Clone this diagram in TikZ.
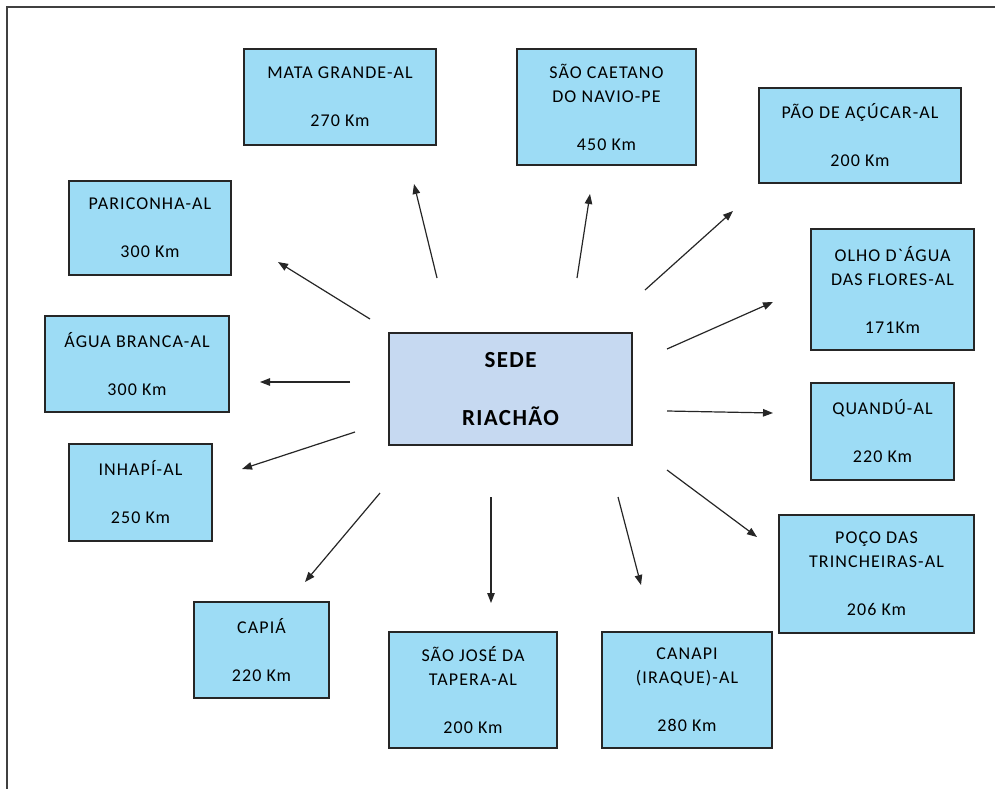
\documentclass[tikz,border=0pt]{standalone}
\usepackage{fontspec}
\setmainfont{Carlito}[LetterSpace=6,Ligatures=TeXOff]
\usetikzlibrary{arrows.meta}
\definecolor{boxblue}{HTML}{9DDCF5}
\definecolor{sedeblue}{HTML}{C6D9F1}
\definecolor{edge}{HTML}{262626}
\begin{document}
\begin{tikzpicture}[x=1pt,y=-1pt,
  city/.style={draw=edge,line width=1.5pt,fill=boxblue,inner sep=0pt,align=center,
    font=\fontsize{18}{24}\selectfont,text=black},
  sedebox/.style={draw=edge,line width=1.5pt,fill=sedeblue,inner sep=0pt,align=center,
    font=\fontsize{23}{58}\selectfont\bfseries,text=black},
  link/.style={line width=1.2pt,draw=black!85,-{Triangle[length=10pt,width=7.5pt]}}]
\useasboundingbox (0,0) rectangle (995,789);
\draw[line width=2pt,draw=black!75] (7,789) -- (7,7) -- (995,7);

\node[sedebox,minimum width=243pt,minimum height=112pt] (sede) at (510.5,389) {SEDE\\RIACHÃO};

\node[city,minimum width=192pt,minimum height=96pt] (mata) at (340,97) {MATA GRANDE-AL\\[24pt]270 Km};
\node[city,minimum width=179pt,minimum height=116pt] (caetano) at (606.5,107) {SÃO CAETANO\\DO NAVIO-PE\\[24pt]450 Km};
\node[city,minimum width=202pt,minimum height=95pt] (pao) at (860,135.5) {PÃO DE AÇÚCAR-AL\\[24pt]200 Km};
\node[city,minimum width=162pt,minimum height=94pt] (pariconha) at (150,228) {PARICONHA-AL\\[24pt]300 Km};
\node[city,minimum width=163pt,minimum height=121pt] (olho) at (892.5,289.5) {OLHO D`ÁGUA\\DAS FLORES-AL\\[24pt]171Km};
\node[city,minimum width=184pt,minimum height=96pt] (agua) at (137,364) {ÁGUA BRANCA-AL\\[24pt]300 Km};
\node[city,minimum width=143pt,minimum height=97pt] (quandu) at (882.5,431.5) {QUANDÚ-AL\\[24pt]220 Km};
\node[city,minimum width=143pt,minimum height=97pt] (inhapi) at (140.5,492.5) {INHAPÍ-AL\\[24pt]250 Km};
\node[city,minimum width=195pt,minimum height=118pt] (poco) at (876.5,574) {POÇO DAS\\TRINCHEIRAS-AL\\[24pt]206 Km};
\node[city,minimum width=135pt,minimum height=96pt] (capia) at (261.5,650) {CAPIÁ\\[24pt]220 Km};
\node[city,minimum width=168pt,minimum height=116pt] (saojose) at (473,690) {SÃO JOSÉ DA\\TAPERA-AL\\[24pt]200 Km};
\node[city,minimum width=170pt,minimum height=116pt] (canapi) at (687,690) {CANAPI\\(IRAQUE)-AL\\[24pt]280 Km};

% arrow ends
\coordinate (t1) at (437,278);  \coordinate (h1) at (414,184);
\coordinate (t2) at (577,278);  \coordinate (h2) at (590,194);
\coordinate (t3) at (645,290);  \coordinate (h3) at (733,211);
\coordinate (t4) at (370,319);  \coordinate (h4) at (278,262);
\coordinate (t5) at (667,349);  \coordinate (h5) at (773,302);
\coordinate (t6) at (350,382);  \coordinate (h6) at (260,382);
\coordinate (t7) at (667,411);  \coordinate (h7) at (773,413);
\coordinate (t8) at (355,432);  \coordinate (h8) at (242,469);
\coordinate (t9) at (667,470);  \coordinate (h9) at (757,537);
\coordinate (t10) at (380,493); \coordinate (h10) at (305,582);
\coordinate (t11) at (491,497); \coordinate (h11) at (491,603);
\coordinate (t12) at (618,497); \coordinate (h12) at (641,585);

\foreach \i in {1,...,12} { \draw[link] (t\i) -- (h\i); }
\end{tikzpicture}
\end{document}
